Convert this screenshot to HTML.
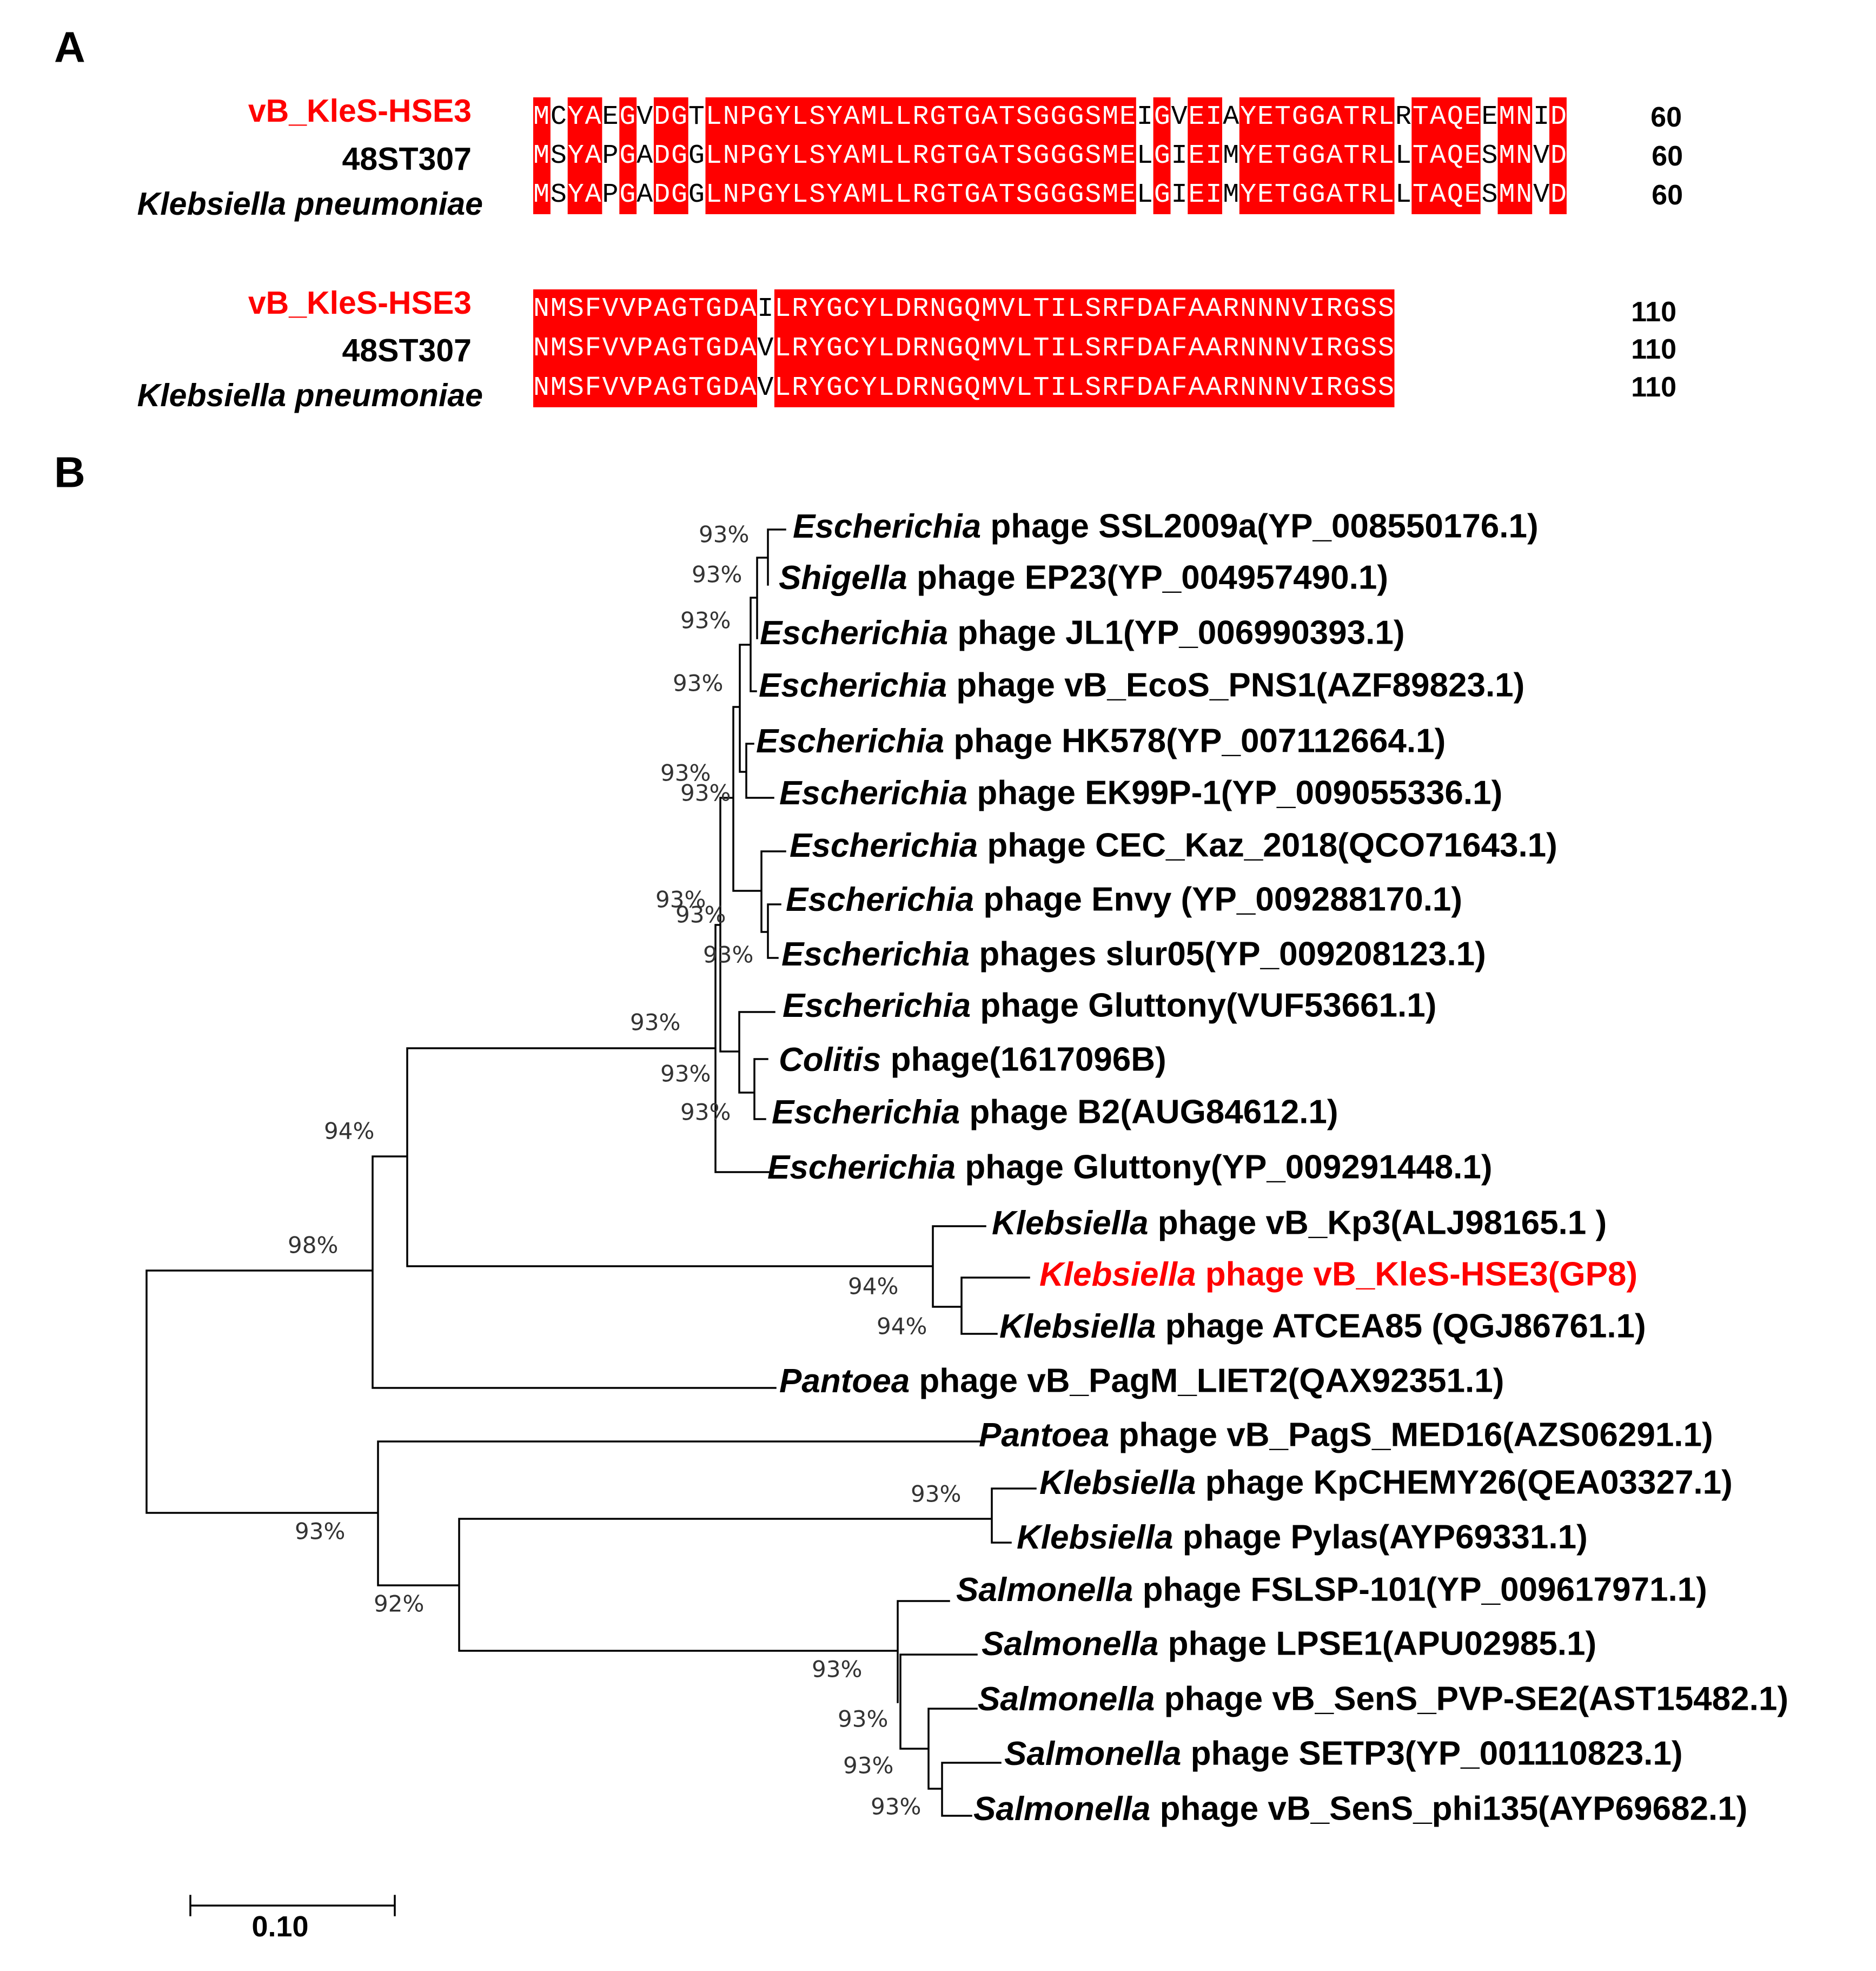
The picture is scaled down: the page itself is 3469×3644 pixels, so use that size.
<!DOCTYPE html>
<html><head><meta charset="utf-8"><style>
html,body{margin:0;padding:0;background:#fff}
svg{display:block}
.lb{font-family:"Liberation Sans",Arial,sans-serif;font-weight:bold;font-size:59px}
.bs{font-family:"DejaVu Sans",sans-serif;font-size:42px;fill:#333}
.sq{font-family:"Liberation Mono",monospace;font-size:50px}
.w{fill:#fff}.k{fill:#000}
</style></head><body>
<svg width="3469" height="3644" viewBox="0 0 3469 3644" xmlns="http://www.w3.org/2000/svg">
<rect width="3469" height="3644" fill="#fff"/>
<text x="100" y="87" class="lb" style="font-size:80px" dominant-baseline="central">A</text>
<text x="100" y="873" class="lb" style="font-size:80px" dominant-baseline="central">B</text>

<g fill="#ff0000">
<rect x="986" y="180" width="31.9" height="216"/>
<rect x="1049.7" y="180" width="63.7" height="216"/>
<rect x="1145.3" y="180" width="31.8" height="216"/>
<rect x="1208.9" y="180" width="63.8" height="216"/>
<rect x="1304.5" y="180" width="796.3" height="216"/>
<rect x="2132.6" y="180" width="31.9" height="216"/>
<rect x="2196.3" y="180" width="63.7" height="216"/>
<rect x="2291.8" y="180" width="286.7" height="216"/>
<rect x="2610.3" y="180" width="127.4" height="216"/>
<rect x="2769.5" y="180" width="63.7" height="216"/>
<rect x="2865" y="180" width="31.9" height="216"/>
</g>
<g class="sq" dominant-baseline="central">
<text x="986" y="216" textLength="1911" lengthAdjust="spacing"><tspan class="w">M</tspan><tspan class="k">C</tspan><tspan class="w">YA</tspan><tspan class="k">E</tspan><tspan class="w">G</tspan><tspan class="k">V</tspan><tspan class="w">DG</tspan><tspan class="k">T</tspan><tspan class="w">LNPGYLSYAMLLRGTGATSGGGSME</tspan><tspan class="k">I</tspan><tspan class="w">G</tspan><tspan class="k">V</tspan><tspan class="w">EI</tspan><tspan class="k">A</tspan><tspan class="w">YETGGATRL</tspan><tspan class="k">R</tspan><tspan class="w">TAQE</tspan><tspan class="k">E</tspan><tspan class="w">MN</tspan><tspan class="k">I</tspan><tspan class="w">D</tspan></text>
<text x="986" y="288" textLength="1911" lengthAdjust="spacing"><tspan class="w">M</tspan><tspan class="k">S</tspan><tspan class="w">YA</tspan><tspan class="k">P</tspan><tspan class="w">G</tspan><tspan class="k">A</tspan><tspan class="w">DG</tspan><tspan class="k">G</tspan><tspan class="w">LNPGYLSYAMLLRGTGATSGGGSME</tspan><tspan class="k">L</tspan><tspan class="w">G</tspan><tspan class="k">I</tspan><tspan class="w">EI</tspan><tspan class="k">M</tspan><tspan class="w">YETGGATRL</tspan><tspan class="k">L</tspan><tspan class="w">TAQE</tspan><tspan class="k">S</tspan><tspan class="w">MN</tspan><tspan class="k">V</tspan><tspan class="w">D</tspan></text>
<text x="986" y="360" textLength="1911" lengthAdjust="spacing"><tspan class="w">M</tspan><tspan class="k">S</tspan><tspan class="w">YA</tspan><tspan class="k">P</tspan><tspan class="w">G</tspan><tspan class="k">A</tspan><tspan class="w">DG</tspan><tspan class="k">G</tspan><tspan class="w">LNPGYLSYAMLLRGTGATSGGGSME</tspan><tspan class="k">L</tspan><tspan class="w">G</tspan><tspan class="k">I</tspan><tspan class="w">EI</tspan><tspan class="k">M</tspan><tspan class="w">YETGGATRL</tspan><tspan class="k">L</tspan><tspan class="w">TAQE</tspan><tspan class="k">S</tspan><tspan class="w">MN</tspan><tspan class="k">V</tspan><tspan class="w">D</tspan></text>
</g>
<g fill="#ff0000">
<rect x="986" y="535" width="414" height="218"/>
<rect x="1431.9" y="535" width="1146.6" height="218"/>
</g>
<g class="sq" dominant-baseline="central">
<text x="986" y="571" textLength="1592" lengthAdjust="spacing"><tspan class="w">NMSFVVPAGTGDA</tspan><tspan class="k">I</tspan><tspan class="w">LRYGCYLDRNGQMVLTILSRFDAFAARNNNVIRGSS</tspan></text>
<text x="986" y="644" textLength="1592" lengthAdjust="spacing"><tspan class="w">NMSFVVPAGTGDA</tspan><tspan class="k">V</tspan><tspan class="w">LRYGCYLDRNGQMVLTILSRFDAFAARNNNVIRGSS</tspan></text>
<text x="986" y="717" textLength="1592" lengthAdjust="spacing"><tspan class="w">NMSFVVPAGTGDA</tspan><tspan class="k">V</tspan><tspan class="w">LRYGCYLDRNGQMVLTILSRFDAFAARNNNVIRGSS</tspan></text>
</g>
<g class="lb" dominant-baseline="central" text-anchor="end">
<text x="872" y="205" fill="#ff0000">vB_KleS-HSE3</text>
<text x="872" y="294">48ST307</text>
<text x="893" y="377" font-style="italic">Klebsiella pneumoniae</text>
<text x="872" y="560" fill="#ff0000">vB_KleS-HSE3</text>
<text x="872" y="648">48ST307</text>
<text x="893" y="731" font-style="italic">Klebsiella pneumoniae</text>
<text x="3110" y="217" style="font-size:52px">60</text>
<text x="3112" y="289" style="font-size:52px">60</text>
<text x="3112" y="361" style="font-size:52px">60</text>
<text x="3100" y="577" style="font-size:52px">110</text>
<text x="3100" y="646" style="font-size:52px">110</text>
<text x="3100" y="716" style="font-size:52px">110</text>
</g>

<path fill="none" stroke="#000" stroke-width="3.5" stroke-linecap="square" d="
M1420 979H1452 M1420 979V1081 M1400 1031H1420 M1400 1031V1180
M1388 1105H1400 M1388 1105V1278H1398 M1368 1192H1388 M1368 1192V1427H1380
M1380 1375V1475 M1380 1375H1393 M1380 1475H1430
M1356 1307H1368 M1356 1307V1647H1408
M1408 1574V1723 M1408 1574H1452 M1408 1723H1420
M1420 1672V1771 M1420 1672H1443 M1420 1771H1438
M1332 1475V1944 M1332 1475H1356 M1332 1944H1367
M1323 1710V2167 M1323 1710H1332 M1323 2167H1425
M1367 1871V2020 M1367 1871H1432 M1367 2020H1395
M1395 1958V2069 M1395 1958H1419 M1395 2069H1415
M753 1938H1323
M753 1938V2341 M753 2341H1725 M1725 2267V2416 M1725 2267H1822 M1725 2416H1778
M1778 2362V2466 M1778 2362H1903 M1778 2466H1843
M689 2138H753 M689 2138V2566 M689 2566H1434 M271 2349H689 M271 2349V2797 M271 2797H699
M699 2665V2931 M699 2665H1811 M699 2931H849 M849 2808V3052 M849 2808H1834
M1834 2752V2852 M1834 2752H1915 M1834 2852H1869
M849 3052H1660 M1660 2960V3147 M1660 2960H1755 M1665 3059V3233 M1665 3059H1806 M1665 3233H1717
M1717 3159V3307 M1717 3159H1806 M1717 3307H1742
M1742 3259V3357 M1742 3259H1850 M1742 3357H1796
M352 3523H730 M352 3505V3541 M730 3505V3541"/>

<g class="lb" style="font-size:62px" dominant-baseline="central">
<text x="1466" y="973"><tspan font-style="italic">Escherichia</tspan> phage SSL2009a(YP_008550176.1)</text>
<text x="1440" y="1068"><tspan font-style="italic">Shigella</tspan> phage EP23(YP_004957490.1)</text>
<text x="1405" y="1170"><tspan font-style="italic">Escherichia</tspan> phage JL1(YP_006990393.1)</text>
<text x="1403" y="1267"><tspan font-style="italic">Escherichia</tspan> phage vB_EcoS_PNS1(AZF89823.1)</text>
<text x="1398" y="1370"><tspan font-style="italic">Escherichia</tspan> phage HK578(YP_007112664.1)</text>
<text x="1441" y="1466"><tspan font-style="italic">Escherichia</tspan> phage EK99P-1(YP_009055336.1)</text>
<text x="1460" y="1563"><tspan font-style="italic">Escherichia</tspan> phage CEC_Kaz_2018(QCO71643.1)</text>
<text x="1453" y="1663"><tspan font-style="italic">Escherichia</tspan> phage Envy (YP_009288170.1)</text>
<text x="1445" y="1764"><tspan font-style="italic">Escherichia</tspan> phages slur05(YP_009208123.1)</text>
<text x="1447" y="1859"><tspan font-style="italic">Escherichia</tspan> phage Gluttony(VUF53661.1)</text>
<text x="1440" y="1959"><tspan font-style="italic">Colitis</tspan> phage(1617096B)</text>
<text x="1427" y="2056"><tspan font-style="italic">Escherichia</tspan> phage B2(AUG84612.1)</text>
<text x="1419" y="2158"><tspan font-style="italic">Escherichia</tspan> phage Gluttony(YP_009291448.1)</text>
<text x="1834" y="2261"><tspan font-style="italic">Klebsiella</tspan> phage vB_Kp3(ALJ98165.1 )</text>
<text x="1922" y="2356" fill="#ff0000"><tspan font-style="italic">Klebsiella</tspan> phage vB_KleS-HSE3(GP8)</text>
<text x="1848" y="2452"><tspan font-style="italic">Klebsiella</tspan> phage ATCEA85 (QGJ86761.1)</text>
<text x="1441" y="2553"><tspan font-style="italic">Pantoea</tspan> phage vB_PagM_LIET2(QAX92351.1)</text>
<text x="1810" y="2653"><tspan font-style="italic">Pantoea</tspan> phage vB_PagS_MED16(AZS06291.1)</text>
<text x="1922" y="2741"><tspan font-style="italic">Klebsiella</tspan> phage KpCHEMY26(QEA03327.1)</text>
<text x="1880" y="2842"><tspan font-style="italic">Klebsiella</tspan> phage Pylas(AYP69331.1)</text>
<text x="1768" y="2939"><tspan font-style="italic">Salmonella</tspan> phage FSLSP-101(YP_009617971.1)</text>
<text x="1815" y="3039"><tspan font-style="italic">Salmonella</tspan> phage LPSE1(APU02985.1)</text>
<text x="1808" y="3141"><tspan font-style="italic">Salmonella</tspan> phage vB_SenS_PVP-SE2(AST15482.1)</text>
<text x="1857" y="3242"><tspan font-style="italic">Salmonella</tspan> phage SETP3(YP_001110823.1)</text>
<text x="1800" y="3344"><tspan font-style="italic">Salmonella</tspan> phage vB_SenS_phi135(AYP69682.1)</text>
<text x="518" y="3562" text-anchor="middle" style="font-size:54px">0.10</text>
</g>

<g class="bs" dominant-baseline="central">
<text x="1292" y="988">93%</text>
<text x="1279" y="1062">93%</text>
<text x="1258" y="1147">93%</text>
<text x="1244" y="1263">93%</text>
<text x="1221" y="1429">93%</text>
<text x="1258" y="1466">93%</text>
<text x="1212" y="1663">93%</text>
<text x="1249" y="1691">93%</text>
<text x="1300" y="1765">93%</text>
<text x="1165" y="1890">93%</text>
<text x="1221" y="1985">93%</text>
<text x="1258" y="2056">93%</text>
<text x="599" y="2091">94%</text>
<text x="532" y="2302">98%</text>
<text x="1568" y="2378">94%</text>
<text x="1621" y="2452">94%</text>
<text x="1684" y="2762">93%</text>
<text x="545" y="2831">93%</text>
<text x="691" y="2965">92%</text>
<text x="1501" y="3086">93%</text>
<text x="1549" y="3178">93%</text>
<text x="1559" y="3264">93%</text>
<text x="1610" y="3340">93%</text>
</g>
</svg>
</body></html>
